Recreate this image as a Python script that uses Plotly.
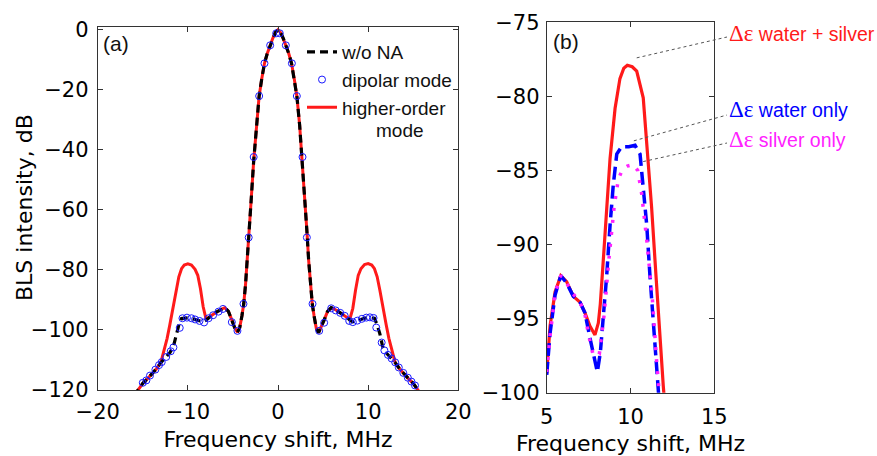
import plotly.graph_objects as go

# ---------------- Panel (a) data ----------------
freq_a = [-16.0, -15.5, -15.0, -14.5, -14.0, -13.5, -13.0, -12.6, -12.3, -12.0, -11.6, -11.3,
          -11.0, -10.7, -10.4, -10.0, -9.6, -9.2, -8.9, -8.6, -8.3, -8.0, -7.7, -7.3, -6.8,
          -6.3, -5.9, -5.5, -5.1, -4.8, -4.5, -4.25, -4.0, -3.8, -3.6, -3.4, -3.2, -3.0, -2.7,
          -2.4, -2.1, -1.8, -1.5, -1.2, -0.9, -0.6, -0.3, 0.0,
          0.3, 0.6, 0.9, 1.2, 1.5, 1.8, 2.1, 2.4, 2.7, 3.0, 3.2, 3.4, 3.6, 3.8, 4.0, 4.25, 4.5,
          4.8, 5.1, 5.5, 5.9, 6.3, 6.8, 7.3, 7.7, 8.0, 8.3, 8.6, 8.9, 9.2, 9.6, 10.0, 10.4,
          10.7, 11.0, 11.3, 11.6, 12.0, 12.3, 12.6, 13.0, 13.5, 14.0, 14.5, 15.0, 15.5, 16.0]

wo_na = [-122.0, -120.0, -117.8, -116.3, -114.8, -113.0, -110.9, -109.6, -108.6, -107.6, -105.5, -101.3,
         -98.3, -96.2, -96.0, -96.0, -96.2, -96.5, -96.8, -97.1, -97.3, -96.8, -95.9, -95.0, -94.0,
         -93.1, -92.6, -93.8, -96.8, -99.3, -100.8, -99.3, -95.3, -91.3, -84.8, -76.8, -66.8, -57.8, -43.8,
         -31.8, -22.3, -16.3, -11.2, -8.0, -5.4, -3.0, -1.0, 0.0,
         -1.0, -3.0, -5.4, -8.0, -11.2, -16.3, -22.3, -31.8, -43.8, -57.8, -66.8, -76.8, -84.8, -91.3, -95.3, -99.5, -100.9,
         -99.0, -96.8, -93.8, -92.6, -93.1, -94.0, -95.0, -95.9, -96.8, -97.3, -97.1, -96.8, -96.4, -96.1, -95.9, -95.9,
         -96.1, -98.3, -101.3, -105.5, -107.6, -108.6, -109.6, -110.9, -113.0, -114.8, -116.3, -117.8, -120.0, -122.0]

higher_order = [-122.0, -120.0, -117.8, -116.3, -114.8, -113.0, -110.9, -106.3, -102.8, -98.3, -92.3, -86.8,
                -82.3, -79.6, -78.4, -78.0, -78.4, -79.8, -81.8, -86.3, -92.3, -96.1, -95.9, -95.0, -94.0,
                -93.1, -92.6, -93.8, -96.8, -99.3, -100.8, -99.3, -95.3, -91.3, -84.8, -76.8, -66.8, -57.8, -43.8,
                -31.8, -22.3, -16.3, -11.2, -8.0, -5.4, -3.0, -1.0, 0.0,
                -1.0, -3.0, -5.4, -8.0, -11.2, -16.3, -22.3, -31.8, -43.8, -57.8, -66.8, -76.8, -84.8, -91.3, -95.3, -99.5, -100.9,
                -99.0, -96.8, -93.8, -92.6, -93.1, -94.0, -95.0, -95.9, -96.1, -92.8, -86.8, -81.8, -79.6, -78.2, -77.9, -78.4,
                -79.6, -82.3, -86.8, -92.3, -98.3, -102.8, -106.3, -110.9, -113.0, -114.8, -116.3, -117.8, -120.0, -122.0]

freq_dip = [-15.0, -14.6, -14.2, -13.6, -13.2, -12.9, -12.4, -11.9, -11.6, -10.9, -10.6, -10.1, -9.6,
            -9.2, -8.7, -8.2, -7.7, -7.2, -6.6, -6.1, -5.12, -4.5, -3.83, -3.25, -2.7, -2.09, -1.5,
            -0.87, -0.2, 0.2, 0.87, 1.54, 2.09, 2.72, 3.2, 3.83, 4.57, 5.12, 5.9, 6.4, 6.9, 7.4,
            7.9, 8.3, 8.8, 9.3, 9.8, 10.2, 10.6, 10.9, 11.5, 11.8, 12.2, 12.6, 13.0, 13.4, 13.9,
            14.4, 14.8, 15.2]
dipolar = [-117.6, -116.8, -115.2, -113.2, -111.7, -110.7, -109.0, -107.1, -105.8, -99.3, -96.1, -95.9, -96.1,
           -96.5, -97.0, -97.5, -96.1, -95.1, -93.9, -93.0, -97.4, -100.3, -91.3, -69.2, -42.4, -22.1, -11.2,
           -5.2, -1.2, -1.2, -5.2, -11.2, -22.1, -42.4, -69.2, -91.3, -100.3, -97.6, -92.8, -93.5, -94.3, -95.3,
           -97.0, -97.4, -96.9, -96.3, -95.9, -95.8, -96.0, -99.2, -104.2, -106.8, -108.3, -109.5, -110.8, -112.5, -114.3,
           -115.9, -117.2, -118.5]

# ---------------- Panel (b) data ----------------
freq_ws = [5.0, 5.2, 5.5, 5.84, 6.19, 6.59, 6.99, 7.28, 7.58, 7.88, 8.08, 8.2, 8.38, 8.58, 8.78,
           9.08, 9.37, 9.6, 9.81, 10.1, 10.37, 10.76, 10.97, 11.26, 11.52, 11.76, 11.96, 12.1, 12.3]
water_silver = [-98.7, -95.5, -93.2, -92.1, -92.5, -93.5, -93.9, -94.6, -95.5, -96.1, -95.3, -94.0, -91.0,
                -87.6, -84.2, -80.8, -78.8, -78.1, -77.9, -78.0, -78.3, -80.1, -83.0, -87.5, -92.1, -96.6,
                -99.6, -101.5, -104.0]

freq_w = [5.0, 5.2, 5.5, 5.84, 6.19, 6.59, 6.99, 7.28, 7.58, 7.78, 8.02, 8.2, 8.38, 8.58, 8.78, 8.97,
          9.18, 9.47, 9.9, 10.27, 10.57, 10.76, 10.97, 11.16, 11.46, 11.66, 11.8]
water_only = [-98.8, -96.0, -93.4, -92.1, -92.6, -93.5, -93.9, -94.6, -96.3, -97.4, -98.6, -97.3, -95.0,
              -92.1, -88.7, -86.0, -83.9, -83.4, -83.4, -83.3, -83.9, -86.0, -88.7, -92.1, -96.6, -99.8, -102.0]

freq_s = [5.0, 5.2, 5.5, 5.84, 6.19, 6.49, 6.99, 7.28, 7.48, 7.78, 8.14, 8.42, 8.72, 9.02, 9.27, 9.53,
          9.81, 10.17, 10.43, 10.67, 10.97, 11.3, 11.56, 11.75]
silver_only = [-98.6, -96.2, -93.3, -92.1, -92.6, -93.2, -93.9, -94.7, -96.0, -97.5, -97.4, -94.8, -90.9,
               -87.5, -85.6, -84.9, -84.7, -84.6, -85.0, -86.6, -89.7, -93.6, -97.9, -100.5]

x_ticks_a = [-20, -10, 0, 10, 20]
y_ticks_a = [-120, -100, -80, -60, -40, -20, 0]
x_ticks_b = [5, 10, 15]
y_ticks_b = [-100, -95, -90, -85, -80, -75]

# ---------------- layout geometry ----------------
W, H = 877, 456
xa_dom = [97.7 / W, 458.3 / W]
ya_dom = [(H - 390) / H, (H - 26.7) / H]
xb_dom = [546.7 / W, 714.3 / W]
yb_dom = [(H - 392.7) / H, (H - 22.3) / H]
xa_rng = [-20, 20]
ya_rng = [-120, 1]
xb_rng = [5, 15]
yb_rng = [-100, -75]

RED = "#ff1a1a"
BLUE = "#0000ff"
MAG = "#ff22ff"

fig = go.Figure()

fig.add_trace(go.Scatter(x=freq_a, y=higher_order, mode="lines", name="higher-order",
                         line=dict(color=RED, width=3), legendrank=3, xaxis="x", yaxis="y"))
fig.add_trace(go.Scatter(x=freq_a, y=wo_na, mode="lines", name="w/o NA",
                         line=dict(color="black", width=3.2, dash="8px,5px"), legendrank=1,
                         xaxis="x", yaxis="y"))
fig.add_trace(go.Scatter(x=freq_dip, y=dipolar, mode="markers", name="dipolar mode",
                         marker=dict(symbol="circle-open", size=7, color="#1a1aff", line=dict(width=1)),
                         legendrank=2, xaxis="x", yaxis="y"))

fig.add_trace(go.Scatter(x=freq_ws, y=water_silver, mode="lines", showlegend=False,
                         line=dict(color=RED, width=3.2), xaxis="x2", yaxis="y2"))
fig.add_trace(go.Scatter(x=freq_w, y=water_only, mode="lines", showlegend=False,
                         line=dict(color=BLUE, width=3.5, dash="13px,6px"), xaxis="x2", yaxis="y2"))
fig.add_trace(go.Scatter(x=freq_s, y=silver_only, mode="lines", showlegend=False,
                         line=dict(color=MAG, width=3.5, dash="3px,9px"), xaxis="x2", yaxis="y2"))

axis_common = dict(showline=True, linecolor="#333", linewidth=1, mirror="ticks", ticks="inside",
                   ticklen=5, tickcolor="#333", showgrid=False, zeroline=False, automargin=False,
                   tickfont=dict(family="DejaVu Sans", size=21, color="black"))
title_font = dict(family="DejaVu Sans", size=22, color="black")

fig.update_layout(
    width=W, height=H, margin=dict(l=0, r=0, t=0, b=0, autoexpand=False),
    paper_bgcolor="white", plot_bgcolor="white",
    xaxis=dict(domain=xa_dom, range=xa_rng, tickvals=x_ticks_a, anchor="y",
               title=dict(text="Frequency shift, MHz", font=title_font, standoff=8),
               ticklabelstandoff=3, **axis_common),
    yaxis=dict(domain=ya_dom, range=ya_rng, tickvals=y_ticks_a, anchor="x",
               ticklabelstandoff=4, **axis_common),
    xaxis2=dict(domain=xb_dom, range=xb_rng, tickvals=x_ticks_b, anchor="y2",
                title=dict(text="Frequency shift, MHz", font=title_font, standoff=8),
                ticklabelstandoff=5, **axis_common),
    yaxis2=dict(domain=yb_dom, range=yb_rng, tickvals=y_ticks_b, anchor="x2",
                ticklabelstandoff=2, **axis_common),
    showlegend=True,
    legend=dict(x=302 / W, y=1 - 33 / H, xanchor="left", yanchor="top",
                bgcolor="rgba(0,0,0,0)", borderwidth=0, tracegroupgap=0,
                font=dict(family="Liberation Sans", size=19, color="#111")),
)

# y-axis title of panel (a)
fig.add_annotation(x=24 / W, y=1 - 208 / H, xref="paper", yref="paper", xanchor="center",
                   yanchor="middle", showarrow=False, textangle=-90, text="BLS intensity, dB",
                   font=title_font)


def to_paper_b(xv, yv):
    xp = xb_dom[0] + (xv - xb_rng[0]) / (xb_rng[1] - xb_rng[0]) * (xb_dom[1] - xb_dom[0])
    yp = yb_dom[0] + (yv - yb_rng[0]) / (yb_rng[1] - yb_rng[0]) * (yb_dom[1] - yb_dom[0])
    return xp, yp


label_x = 727 / W
labels_b = [
    ("water + silver", RED, 33, (10.37, -77.4), 37),
    ("water only", BLUE, 110, (10.2, -83.0), 115),
    ("silver only", MAG, 139, (10.76, -84.4), 143),
]
for text, col, ypix, (cx, cy), lpix in labels_b:
    fig.add_annotation(
        x=label_x, y=1 - ypix / H, xref="paper", yref="paper", xanchor="left", yanchor="middle",
        showarrow=False,
        text="<span style='font-family:Liberation Serif;font-size:23px'>\u0394\u03b5</span> " + text,
        font=dict(family="Liberation Sans", size=19.5, color=col))
    px0, py0 = to_paper_b(cx, cy)
    fig.add_shape(type="line", xref="paper", yref="paper", x0=px0, y0=py0,
                  x1=label_x, y1=1 - lpix / H, line=dict(color="#555", width=1, dash="dot"))

# "mode" second line of the legend entry
fig.add_annotation(x=374 / W, y=1 - 131 / H, xref="paper", yref="paper", xanchor="left",
                   yanchor="middle", showarrow=False, text="mode",
                   font=dict(family="Liberation Sans", size=19, color="#111"))

fig.add_annotation(x=116 / W, y=1 - 43 / H, xref="paper", yref="paper", showarrow=False,
                   xanchor="center", yanchor="middle",
                   text="(a)", font=dict(family="Liberation Sans", size=21, color="#111"))
fig.add_annotation(x=566 / W, y=1 - 42 / H, xref="paper", yref="paper", showarrow=False,
                   xanchor="center", yanchor="middle",
                   text="(b)", font=dict(family="Liberation Sans", size=21, color="#111"))

fig.write_html("out.html")
